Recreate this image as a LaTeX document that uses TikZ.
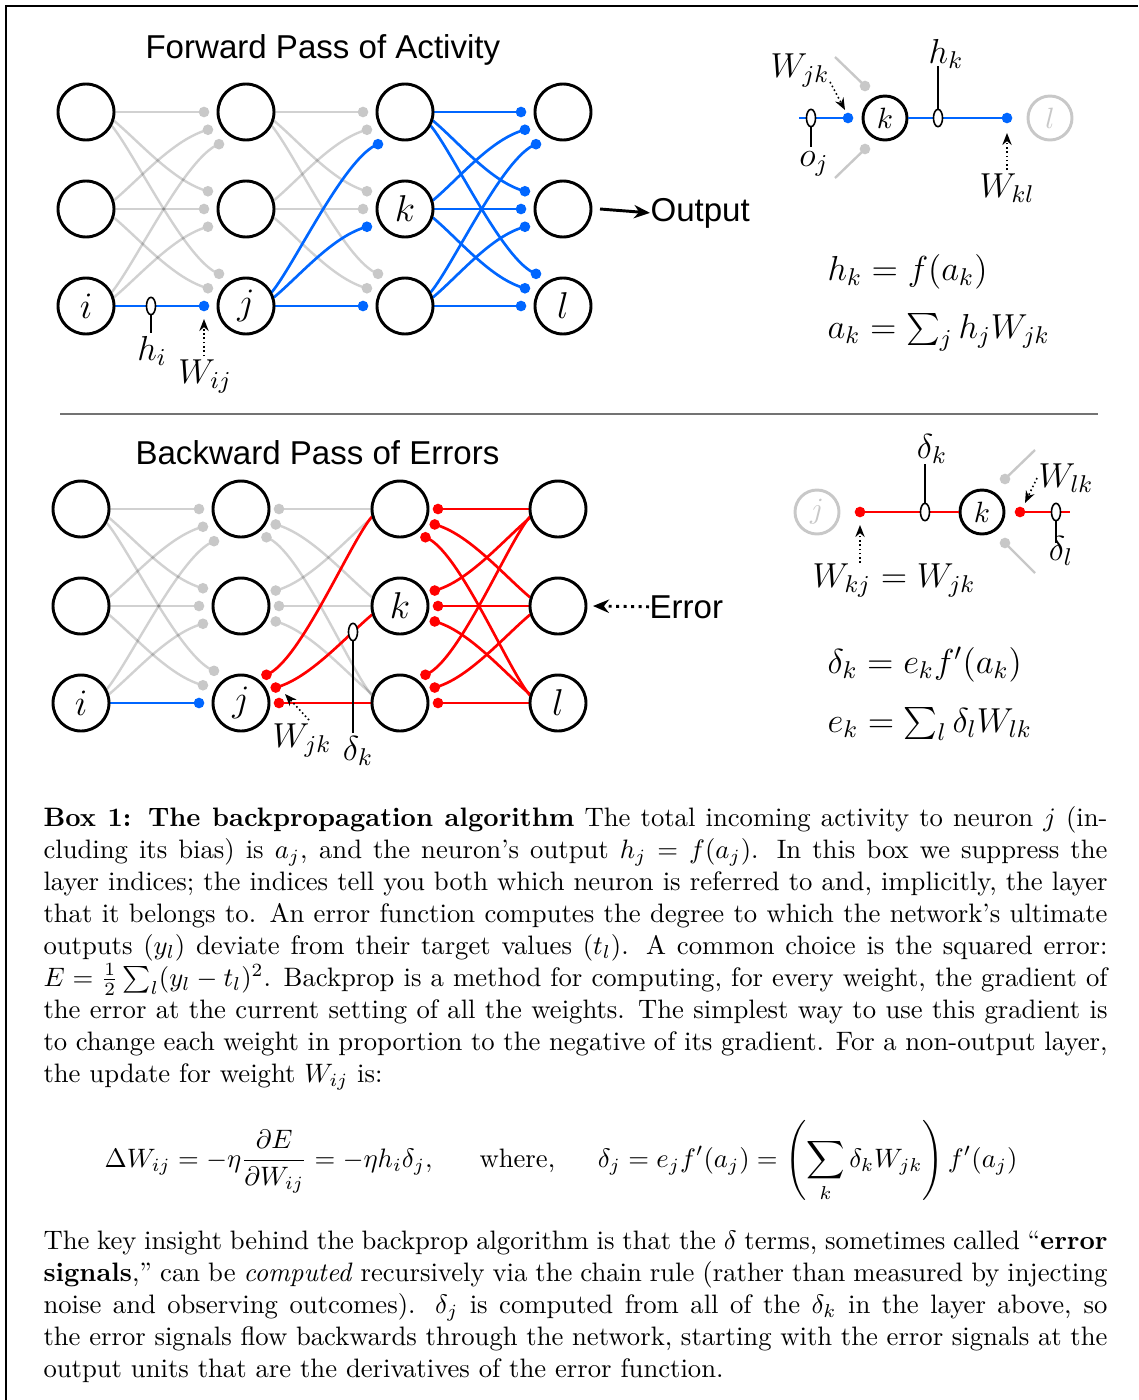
\RequirePackage{fix-cm}
\documentclass[tikz,border=0pt]{standalone}
\usepackage{fontspec}
\usepackage{amsmath}
\usetikzlibrary{calc,arrows.meta,shapes.geometric}
\newfontfamily\helv{Liberation Sans}
\definecolor{bl}{RGB}{0,102,255}
\definecolor{rd}{RGB}{255,0,0}
\definecolor{lg}{RGB}{200,200,200}
\pgfdeclarelayer{bg}
\pgfsetlayers{bg,main}

% edge with weight dot at the target side (forward style)
\newcommand\dotT[5]{%
  \pgfmathsetmacro\aS{#4*(20-3*abs(#4))}%
  \pgfmathsetmacro\tS{#4*(30+10*abs(#4))/max(abs(#4),1)}%
  \pgfmathsetmacro\tE{#4*(10+5*abs(#4))/max(abs(#4),1)}%
  \pgfmathsetmacro\pD{180+25*#4}%
  \begin{pgfonlayer}{bg}
  \draw[#1] ($(#2)+(\aS:29)$) .. controls +(\tS:35) and +({180+\tE}:35) .. ($(#3)+(\pD:42)$);
  \fill[#5] ($(#3)+(\pD:42)$) circle (2pt);
  \end{pgfonlayer}
}
% edge with weight dot at the source side (backward style)
\newcommand\dotS[5]{%
  \pgfmathsetmacro\aS{#4*(26.5-9.5*abs(#4))}%
  \pgfmathsetmacro\tS{#4*(30+10*abs(#4))/max(abs(#4),1)}%
  \pgfmathsetmacro\tE{#4*(10+5*abs(#4))/max(abs(#4),1)}%
  \pgfmathsetmacro\pD{24*#4}%
  \begin{pgfonlayer}{bg}
  \draw[#1] ($(#2)+(\pD:38)$) .. controls +(\tE:35) and +({180+\tS}:35) .. ($(#3)+({180+\aS}:29)$);
  \fill[#5] ($(#2)+(\pD:38)$) circle (2pt);
  \end{pgfonlayer}
}

\begin{document}
\begin{tikzpicture}[x=0.375pt,y=-0.375pt,
  neuron/.style={circle,draw,fill=white,line width=1.1pt,minimum size=21pt,inner sep=0pt,font=\fontsize{14}{16}\selectfont},
  sneuron/.style={circle,draw,fill=white,line width=1.1pt,minimum size=16.5pt,inner sep=0pt,font=\fontsize{11}{13}\selectfont},
  grayline/.style={draw=black,draw opacity=0.18,line width=0.9pt},
  lgline/.style={draw=lg,line width=0.9pt},
  blueline/.style={draw=bl,line width=1pt},
  redline/.style={draw=rd,line width=1pt},
  lab/.style={inner sep=1pt,font=\fontsize{13}{15}\selectfont,anchor=base},
  eqn/.style={inner sep=0pt,font=\fontsize{13}{15}\selectfont,anchor=base west},
  sans/.style={inner sep=0pt,font=\helv\fontsize{12.4}{14}\selectfont,anchor=base west},
  marker/.style={ellipse,draw,fill=white,line width=0.6pt,minimum width=3.4pt,minimum height=6.5pt,inner sep=0pt},
  stem/.style={line width=0.6pt},
  warrow/.style={densely dotted,line width=0.6pt,-{Stealth[length=4.5pt,width=3.5pt]}},
  body/.style={inner sep=0pt,text width=399pt,align=justify,font=\fontsize{10}{12}\selectfont,anchor=base west}
]
\useasboundingbox (0,0) rectangle (1138,1400);

% frame and separator
\coordinate (fr1) at (6,1400);
\coordinate (fr2) at (6,6);
\coordinate (fr3) at (1138,6);
\draw[line width=0.75pt] (fr1) -- (fr2) -- (fr3);
\coordinate (sep1) at (60,414);
\coordinate (sep2) at (1098,414);
\draw[black!55,line width=0.5pt] (sep1) -- (sep2);

% ---------- titles ----------
\node[sans] (t1) at (145,58) {Forward Pass of Activity};
\node[sans] (t2) at (135,464) {Backward Pass of Errors};

% ---------- forward network ----------
\node[neuron] (a1) at (86,112) {};
\node[neuron] (a2) at (86,209) {};
\node[neuron] (a3) at (86,306) {$i$};
\node[neuron] (b1) at (246,112) {};
\node[neuron] (b2) at (246,209) {};
\node[neuron] (b3) at (246,306) {$j$};
\node[neuron] (c1) at (405,112) {};
\node[neuron] (c2) at (405,209) {$k$};
\node[neuron] (c3) at (405,306) {};
\node[neuron] (d1) at (563,112) {};
\node[neuron] (d2) at (563,209) {};
\node[neuron] (d3) at (563,306) {$l$};

\foreach \sr in {1,2,3}{\foreach \tr in {1,2,3}{%
  \pgfmathtruncatemacro\dd{\tr-\sr}%
  \ifnum\sr\tr=33 \dotT{blueline}{a\sr}{b\tr}{\dd}{bl}\else\dotT{grayline}{a\sr}{b\tr}{\dd}{lg}\fi
}}
\foreach \sr in {1,2,3}{\foreach \tr in {1,2,3}{%
  \pgfmathtruncatemacro\dd{\tr-\sr}%
  \ifnum\sr=3 \dotT{blueline}{b\sr}{c\tr}{\dd}{bl}\else\dotT{grayline}{b\sr}{c\tr}{\dd}{lg}\fi
}}
\foreach \sr in {1,2,3}{\foreach \tr in {1,2,3}{%
  \pgfmathtruncatemacro\dd{\tr-\sr}%
  \dotT{blueline}{c\sr}{d\tr}{\dd}{bl}
}}

% h_i and W_ij
\node[marker] (mhi) at (151,306) {};
\node[lab] (lhi) at (152,360) {$h_i$};
\draw[stem] (mhi.south) -- (mhi.south |- lhi.north);
\node[lab] (lWij) at (205,383) {$W_{ij}$};
\coordinate (awij) at (204,319);
\draw[warrow] (awij |- lWij.north) -- (awij);

% Output
\node[sans] (outl) at (650,221) {Output};
\coordinate (outs) at (600,209);
\draw[line width=1.1pt,-{Stealth[length=6pt,width=5pt]}] (outs) -- (outl.west);

% ---------- backward network ----------
\node[neuron] (A1) at (81,509) {};
\node[neuron] (A2) at (81,606) {};
\node[neuron] (A3) at (81,703) {$i$};
\node[neuron] (B1) at (241,509) {};
\node[neuron] (B2) at (241,606) {};
\node[neuron] (B3) at (241,703) {$j$};
\node[neuron] (C1) at (400,509) {};
\node[neuron] (C2) at (400,606) {$k$};
\node[neuron] (C3) at (400,703) {};
\node[neuron] (D1) at (558,509) {};
\node[neuron] (D2) at (558,606) {};
\node[neuron] (D3) at (558,703) {$l$};

\foreach \sr in {1,2,3}{\foreach \tr in {1,2,3}{%
  \pgfmathtruncatemacro\dd{\tr-\sr}%
  \ifnum\sr\tr=33 \dotT{blueline}{A\sr}{B\tr}{\dd}{bl}\else\dotT{grayline}{A\sr}{B\tr}{\dd}{lg}\fi
}}
\foreach \sr in {1,2,3}{\foreach \tr in {1,2,3}{%
  \pgfmathtruncatemacro\dd{\tr-\sr}%
  \ifnum\sr=3 \dotS{redline}{B\sr}{C\tr}{\dd}{rd}\else\dotS{grayline}{B\sr}{C\tr}{\dd}{lg}\fi
}}
\foreach \sr in {1,2,3}{\foreach \tr in {1,2,3}{%
  \pgfmathtruncatemacro\dd{\tr-\sr}%
  \dotS{redline}{C\sr}{D\tr}{\dd}{rd}
}}

% delta_k and W_jk
\node[marker] (mdk) at (353,632) {};
\node[lab] (ldk) at (358,760) {$\delta_k$};
\draw[stem] (mdk.south) -- (mdk.south |- ldk.north);
\node[lab] (lWjkb) at (302,747) {$W_{jk}$};
\coordinate (awjk1) at (309,720);
\coordinate (awjk2) at (285,694);
\draw[warrow] (awjk1) -- (awjk2);

% Error
\node[sans] (errl) at (649,618) {Error};
\coordinate (errt) at (593,606);
\draw[line width=1.1pt,dash pattern=on 1.1pt off 1.7pt,-{Stealth[length=6pt,width=5pt]}] (errl.west) -- (errt);

% ---------- top-right detail ----------
\node[sneuron] (sk) at (885,118) {$k$};
\node[sneuron,draw=lg,text=lg] (sl) at (1050,118) {$l$};
\coordinate (sin) at (799,118);
\coordinate (sdot1) at (848,118);
\coordinate (sdot2) at (1007,118);
\draw[blueline] (sin) -- (sdot1);
\fill[bl] (sdot1) circle (2pt);
\draw[blueline] (sk.east) -- (sdot2);
\fill[bl] (sdot2) circle (2pt);
\coordinate (sg1) at (835,57);
\coordinate (sgd1) at (865,86);
\coordinate (sg2) at (835,178);
\coordinate (sgd2) at (865,149);
\draw[lgline] (sg1) -- (sgd1);
\fill[lg] (sgd1) circle (2pt);
\draw[lgline] (sg2) -- (sgd2);
\fill[lg] (sgd2) circle (2pt);
\node[marker] (moj) at (811,118) {};
\coordinate (toj) at (811,147);
\draw[stem] (moj.south) -- (toj);
\node[lab] (loj) at (814,166) {$o_j$};
\node[marker] (mhk) at (938,118) {};
\coordinate (thk) at (938,66);
\draw[stem] (mhk.north) -- (thk);
\node[lab] (lhk) at (946,63) {$h_k$};
\node[lab] (lWjk) at (800,77) {$W_{jk}$};
\coordinate (aj1) at (830,82);
\coordinate (aj2) at (845,110);
\draw[warrow] (aj1) -- (aj2);
\node[lab] (lWkl) at (1007,197) {$W_{kl}$};
\coordinate (akl1) at (1007,170);
\coordinate (akl2) at (1007,133);
\draw[warrow] (akl1) -- (akl2);

\node[eqn] (eq1) at (827,280) {$h_k = f(a_k)$};
\node[eqn] (eq2) at (827,338) {$a_k = \sum_j h_j W_{jk}$};

% ---------- bottom-right detail ----------
\node[sneuron,draw=lg,text=lg] (sj) at (817,512) {$j$};
\node[sneuron] (sk2) at (982,512) {$k$};
\coordinate (rdot1) at (860,512);
\draw[redline] (rdot1) -- (sk2.west);
\fill[rd] (rdot1) circle (2pt);
\coordinate (rdot2) at (1020,512);
\coordinate (rend) at (1070,512);
\draw[redline] (rdot2) -- (rend);
\fill[rd] (rdot2) circle (2pt);
\node[marker] (mdk2) at (925,512) {};
\coordinate (tdk2) at (925,464);
\draw[stem] (mdk2.north) -- (tdk2);
\node[lab] (ldk2) at (932,458) {$\delta_k$};
\node[marker] (mdl) at (1056,512) {};
\coordinate (tdl) at (1056,543);
\draw[stem] (mdl.south) -- (tdl);
\node[lab] (ldl) at (1061,560) {$\delta_l$};
\coordinate (bg1) at (1035,450);
\coordinate (bgd1) at (1005,479);
\coordinate (bg2) at (1035,573);
\coordinate (bgd2) at (1005,543);
\draw[lgline] (bg1) -- (bgd1);
\fill[lg] (bgd1) circle (2pt);
\draw[lgline] (bg2) -- (bgd2);
\fill[lg] (bgd2) circle (2pt);
\node[lab] (lWlk) at (1066,487) {$W_{lk}$};
\coordinate (alk1) at (1037,478);
\coordinate (alk2) at (1025,503);
\draw[warrow] (alk1) -- (alk2);
\node[lab] (lWkj) at (894,587) {$W_{kj} = W_{jk}$};
\coordinate (akj1) at (860,563);
\coordinate (akj2) at (860,525);
\draw[warrow] (akj1) -- (akj2);

\node[eqn] (eq3) at (827,673) {$\delta_k = e_k f'(a_k)$};
\node[eqn] (eq4) at (827,732) {$e_k = \sum_l \delta_l W_{lk}$};

% ---------- caption text ----------
\node[body] (txt1) at (43,826) {\textbf{Box 1: The backpropagation algorithm} The total incoming activity to neuron $j$ (in-\linebreak cluding its bias) is $a_j$, and the neuron's output $h_j = f(a_j)$. In this box we suppress the\linebreak layer indices; the indices tell you both which neuron is referred to and, implicitly, the layer\linebreak that it belongs to. An error function computes the degree to which the network's ultimate\linebreak outputs $(y_l)$ deviate from their target values $(t_l)$. A common choice is the squared error:\linebreak $E=\frac{1}{2}\sum_l (y_l-t_l)^2$. Backprop is a method for computing, for every weight, the gradient of\linebreak the error at the current setting of all the weights. The simplest way to use this gradient is\linebreak to change each weight in proportion to the negative of its gradient. For a non-output layer,\linebreak the update for weight $W_{ij}$ is:};

\node[inner sep=0pt,font=\fontsize{10}{12}\selectfont,anchor=base] (deq) at (561,1167) {$\displaystyle \Delta W_{ij} = -\eta\frac{\partial E}{\partial W_{ij}} = -\eta h_i\delta_j,\hspace{16pt}\text{where,}\hspace{16pt}\delta_j = e_j f'(a_j) = \left(\sum_k \delta_k W_{jk}\right) f'(a_j)$};

\node[body] (txt2) at (43,1249) {The key insight behind the backprop algorithm is that the $\delta$ terms, sometimes called ``\textbf{error\linebreak signals},'' can be \emph{computed} recursively via the chain rule (rather than measured by injecting\linebreak noise and observing outcomes). $\delta_j$ is computed from all of the $\delta_k$ in the layer above, so\linebreak the error signals flow backwards through the network, starting with the error signals at the\linebreak output units that are the derivatives of the error function.};
\end{tikzpicture}
\end{document}
